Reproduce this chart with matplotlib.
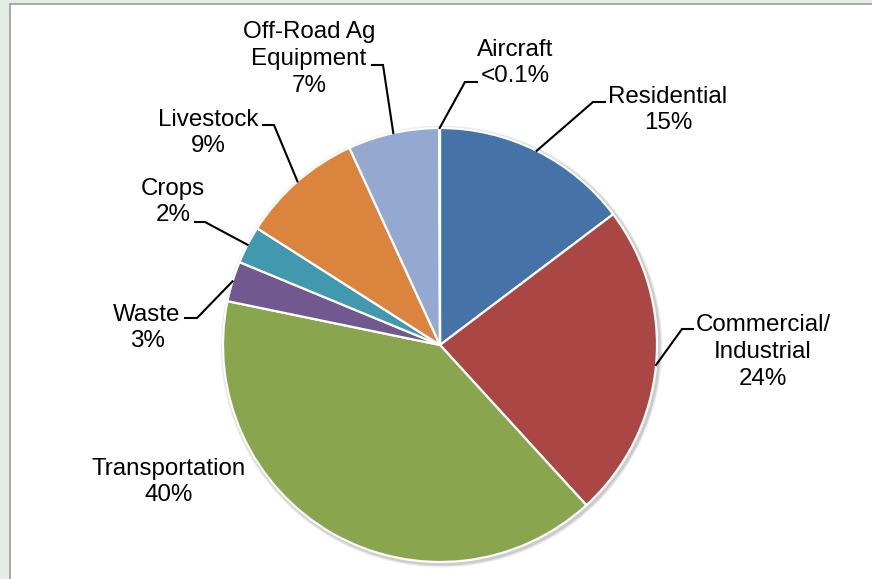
import numpy as np
import matplotlib
matplotlib.use("Agg")
import matplotlib.pyplot as plt
from matplotlib.patches import Rectangle, Circle

# sector shares (percent), clockwise from 12 o'clock
sectors = ["Residential", "Commercial/\nIndustrial", "Transportation", "Waste",
           "Crops", "Livestock", "Off-Road Ag\nEquipment", "Aircraft"]
shares = [14.7, 23.5, 40.0, 3.0, 2.8, 9.1, 6.8, 0.05]
pct_labels = ["15%", "24%", "40%", "3%", "2%", "9%", "7%", "<0.1%"]
colors = ["#4572a7", "#aa4643", "#89a54e", "#71588f", "#4198af",
          "#db843d", "#93a9cf", "#d09290"]

W, H = 872, 579
cx, cy, R = 440, H - 345, 217

# label layout: text centre, elbow of the leader, end of the leader (pixels, y down)
text_pos = [(668, 110), (763, 352), (169, 482), (147, 328),
            (173, 202), (208, 133), (309, 59), (515, 63)]
elbows = [(593, 102), (682, 329), None, (197, 318),
          (205, 222), (274, 125), (383, 65), (465, 82)]
ends = [(605, 102), (693, 329), None, (185, 318),
        (195, 222), (263, 125), (372, 65), (477, 82)]

plt.rcParams["font.family"] = ["Liberation Sans", "DejaVu Sans"]

fig = plt.figure(figsize=(W / 100, H / 100), dpi=100)
fig.patch.set_facecolor("#e4ede4")
fig.patches.append(Rectangle((10 / W, -0.05), 1, (H - 4) / H + 0.05, transform=fig.transFigure,
                             facecolor="white", edgecolor="#9a9a9a", linewidth=1.2,
                             zorder=-1))

ax = fig.add_axes([0, 0, 1, 1])
ax.set_facecolor("none")

# soft shadow under the pie
for k, a in [(4, 0.05), (3, 0.07), (2, 0.09)]:
    ax.add_patch(Circle((cx + 1.5, cy - 1.5), R + k, facecolor="#000000", alpha=a,
                        edgecolor="none"))

wedges, _ = ax.pie(shares, colors=colors, startangle=90, counterclock=False,
                   center=(cx, cy), radius=R,
                   wedgeprops=dict(edgecolor="white", linewidth=1.6))

ax.set_xlim(0, W)
ax.set_ylim(0, H)
ax.set_aspect("auto")
ax.axis("off")

total = sum(shares)
start = 0.0
for i, v in enumerate(shares):
    mid = (start + v / 2) / total * 2 * np.pi
    start += v
    tx, ty = text_pos[i]
    ax.text(tx, H - ty, sectors[i] + "\n" + pct_labels[i], ha="center", va="center",
            fontsize=17.4, linespacing=1.27, color="black")
    if elbows[i] is not None:
        sx = cx + R * np.sin(mid)
        sy = cy + R * np.cos(mid)
        ex, ey = elbows[i]
        fx, fy = ends[i]
        ax.plot([sx, ex, fx], [sy, H - ey, H - fy], color="black", linewidth=1.5,
                solid_joinstyle="miter")

fig.savefig("out.png", dpi=100, facecolor=fig.get_facecolor())
